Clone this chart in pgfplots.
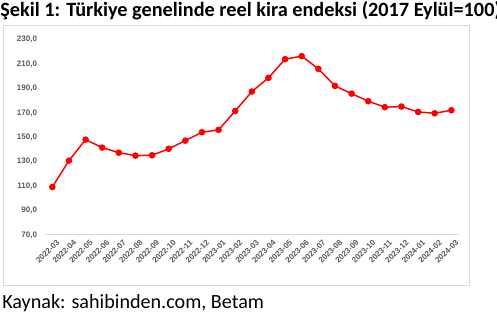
\documentclass[border=0pt]{standalone}
\usepackage{pgfplots}
\pgfplotsset{compat=1.18}
\usepackage{fontspec}
\setmainfont{Carlito}
\newfontfamily\arialf{Liberation Sans}
\definecolor{lblgray}{HTML}{595959}
\definecolor{framegray}{HTML}{D9D9D9}
\begin{document}
\begin{tikzpicture}[x=0.75pt,y=0.75pt]
\path[use as bounding box] (0,0) rectangle (497,317);
\draw[framegray, line width=0.75pt] (3,291) rectangle (469,31);
\node[anchor=base west, inner sep=0, font=\fontsize{15.2}{17}\selectfont\bfseries] at (0,300) {Şekil 1: Türkiye genelinde reel kira endeksi (2017 Eylül=100)};
\node[anchor=base west, inner sep=0, font=\fontsize{15.1}{17}\selectfont] at (2,8) {Kaynak: sahibinden.com, Betam};
\begin{axis}[
  at={(33.75pt,61.5pt)}, anchor=south west,
  scale only axis, width=310.5pt, height=146.5pt,
  xmin=-0.44, xmax=24.46, ymin=70, ymax=230,
  axis x line*=bottom, axis y line*=left,
  x axis line style={framegray, line width=0.75pt, -},
  y axis line style={draw=none},
  ytick={70,90,...,230},
  xtick={0,...,24},
  xticklabels={2022-03,2022-04,2022-05,2022-06,2022-07,2022-08,2022-09,2022-10,2022-11,2022-12,2023-01,2023-02,2023-03,2023-04,2023-05,2023-06,2023-07,2023-08,2023-09,2023-10,2023-11,2023-12,2024-01,2024-02,2024-03},
  major tick length=0pt,
  /pgf/number format/assume math mode=true,
  yticklabel={\pgfmathprintnumber[fixed,fixed zerofill,precision=1,use comma]{\tick}},
  yticklabel style={font=\arialf\bfseries\fontsize{6}{7}\selectfont, text=lblgray, anchor=east, inner sep=0pt, xshift=-5.8pt},
  xticklabel style={font=\arialf\bfseries\fontsize{6}{7}\selectfont, text=lblgray, rotate=45, anchor=north east, inner sep=1pt, yshift=-3pt, xshift=1pt},
  clip=false,
]
\addplot[red, line width=1.1pt, mark=*, mark size=1.9pt, mark options={fill=red, draw=red}] coordinates {
(0,109.3) (1,130.9) (2,148.1) (3,141.6) (4,137.4) (5,135.0) (6,135.3) (7,140.6)
(8,147.3) (9,154.2) (10,156.1) (11,171.6) (12,187.5) (13,198.7) (14,214.0) (15,216.5)
(16,206.1) (17,192.1) (18,185.8) (19,179.6) (20,174.7) (21,175.2) (22,170.8) (23,169.7) (24,172.2)
};
\end{axis}
\end{tikzpicture}
\end{document}
